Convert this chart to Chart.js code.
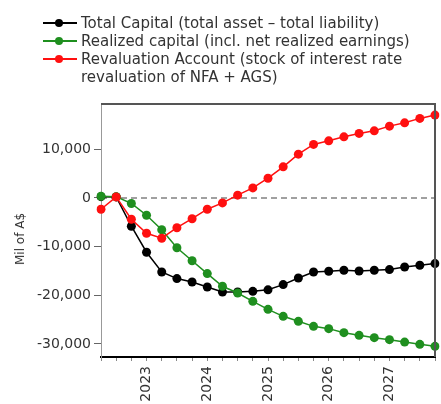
<!DOCTYPE html>
<html lang="en">

<head>
    <meta charset="UTF-8">
    <title>Capital projection</title>
    <script src="https://cdn.jsdelivr.net/npm/chart.js"></script>
    <style>
        body {
            margin: 0;
            background: #fff;
            font-family: 'DejaVu Sans', sans-serif;
        }

        .wrap {
            position: relative;
            width: 441px;
            height: 404px;
        }

        canvas {
            position: absolute;
            left: 0;
            top: 0;
        }

        #legend {
            position: absolute;
            left: 43px;
            top: 14px;
            font-size: 15px;
            line-height: 18px;
            color: #333;
        }

        .item {
            display: flex;
            align-items: flex-start;
        }

        .marker {
            position: relative;
            width: 38px;
            height: 18px;
            flex: none;
        }

        .marker .ln {
            position: absolute;
            left: 0;
            width: 34px;
            top: 8px;
            height: 2px;
        }

        .marker .dot {
            position: absolute;
            left: 12px;
            top: 5px;
            width: 8px;
            height: 8px;
            border-radius: 50%;
        }

        .text {
            width: 335px;
        }

        /* y axis title, centred a bit below the plot middle like the original */
        #ytitle {
            position: absolute;
            left: 20px;
            top: 239px;
            font-size: 12px;
            color: #333;
            white-space: nowrap;
            transform: translate(-50%, -50%) rotate(-90deg);
        }
    </style>
</head>

<body>
    <div class="wrap">
        <canvas id="capitalChart" width="441" height="404"></canvas>
        <div id="legend"></div>
        <div id="ytitle"></div>
    </div>

    <script>
        // quarters 2022Q2 .. 2027Q4
        const quarters = [
            '2022Q2', '2022Q3', '2022Q4',
            '2023Q1', '2023Q2', '2023Q3', '2023Q4',
            '2024Q1', '2024Q2', '2024Q3', '2024Q4',
            '2025Q1', '2025Q2', '2025Q3', '2025Q4',
            '2026Q1', '2026Q2', '2026Q3', '2026Q4',
            '2027Q1', '2027Q2', '2027Q3', '2027Q4'
        ];

        const seriesNames = [
            'Total Capital (total asset \u2013 total liability)',
            'Realized capital (incl. net realized earnings)',
            'Revaluation Account (stock of interest rate revaluation of NFA + AGS)'
        ];

        const totalCapital = [
            250, 200, -5820, -11170, -15230, -16580, -17280, -18310, -19340, -19340, -19200, -18890,
            -17820, -16460, -15230, -15080, -14880, -15020, -14880, -14730, -14200, -13850, -13500
        ];
        const realizedCapital = [
            350, 250, -1150, -3560, -6540, -10250, -12920, -15560, -18170, -19550, -21260, -22900,
            -24340, -25370, -26400, -26870, -27700, -28250, -28720, -29140, -29630, -30100, -30510
        ];
        const revaluation = [
            -2330, 200, -4380, -7260, -8290, -6130, -4280, -2330, -1030, 560, 2060, 4050,
            6380, 8990, 10990, 11730, 12550, 13250, 13790, 14750, 15430, 16340, 17020
        ];

        const yTicks = [-30000, -20000, -10000, 0, 10000];
        const yTitle = 'Mil of A$';
        const colors = ['#000000', '#1f8f1f', '#ff1010'];

        document.getElementById('ytitle').textContent = yTitle;

        // legend as html so the long label can wrap
        const legend = document.getElementById('legend');
        seriesNames.forEach((name, i) => {
            const item = document.createElement('div');
            item.className = 'item';
            item.innerHTML = '<div class="marker"><div class="ln" style="background:' + colors[i] +
                '"></div><div class="dot" style="background:' + colors[i] + '"></div></div>' +
                '<div class="text"></div>';
            item.querySelector('.text').textContent = name;
            legend.appendChild(item);
        });

        // frame on top/right plus dashed zero line
        const framePlugin = {
            id: 'frame',
            beforeDatasetsDraw(chart) {
                const { ctx, chartArea: a, scales } = chart;
                const y0 = scales.y.getPixelForValue(0);
                ctx.save();
                ctx.strokeStyle = '#a0a0a0';
                ctx.lineWidth = 2;
                ctx.setLineDash([6, 4]);
                ctx.beginPath();
                ctx.moveTo(a.left, y0);
                ctx.lineTo(a.right, y0);
                ctx.stroke();
                ctx.restore();
            },
            afterDraw(chart) {
                const { ctx, chartArea: a } = chart;
                ctx.save();
                ctx.strokeStyle = '#555';
                ctx.lineWidth = 2;
                ctx.beginPath();
                ctx.moveTo(a.left, a.top);
                ctx.lineTo(a.right, a.top);
                ctx.lineTo(a.right, a.bottom);
                ctx.stroke();
                ctx.restore();
            }
        };

        const series = [totalCapital, realizedCapital, revaluation];

        const ctx = document.getElementById('capitalChart').getContext('2d');
        new Chart(ctx, {
            type: 'line',
            data: {
                labels: quarters,
                datasets: series.map((d, i) => ({
                    label: seriesNames[i],
                    data: d,
                    borderColor: colors[i],
                    backgroundColor: colors[i],
                    borderWidth: 1.5,
                    pointRadius: 4.5,
                    pointBorderWidth: 0,
                    tension: 0,
                    order: 2 - i
                }))
            },
            plugins: [framePlugin],
            options: {
                responsive: false,
                animation: false,
                layout: {
                    padding: { top: 104, right: 6, left: 0, bottom: 0 }
                },
                plugins: {
                    legend: { display: false },
                    tooltip: { enabled: false }
                },
                scales: {
                    x: {
                        offset: false,
                        grid: {
                            drawOnChartArea: false,
                            tickLength: 4,
                            color: '#888'
                        },
                        border: { color: '#000', width: 2 },
                        ticks: {
                            autoSkip: false,
                            maxRotation: 90,
                            minRotation: 90,
                            color: '#333',
                            padding: 5,
                            font: { family: 'DejaVu Sans', size: 14 },
                            callback: function (v, i) {
                                const q = quarters[i];
                                return q.endsWith('Q1') ? q.slice(0, 4) : '';
                            }
                        },
                        afterFit(scale) {
                            scale.height = 47;
                            scale.paddingLeft = 0;
                            scale.paddingRight = 0;
                        }
                    },
                    y: {
                        min: -32700,
                        max: 19300,
                        afterBuildTicks(scale) {
                            scale.ticks = yTicks.map(v => ({ value: v }));
                        },
                        grid: {
                            drawOnChartArea: false,
                            tickLength: 7,
                            color: '#666'
                        },
                        border: { color: '#999', width: 1 },
                        ticks: {
                            color: '#333',
                            padding: 3,
                            font: { family: 'DejaVu Sans', size: 14 },
                            callback: v => v.toLocaleString('en-US')
                        },
                        afterFit(scale) {
                            scale.width = 101;
                            scale.paddingTop = 0;
                            scale.paddingBottom = 0;
                        }
                    }
                }
            }
        });
    </script>
</body>

</html>
